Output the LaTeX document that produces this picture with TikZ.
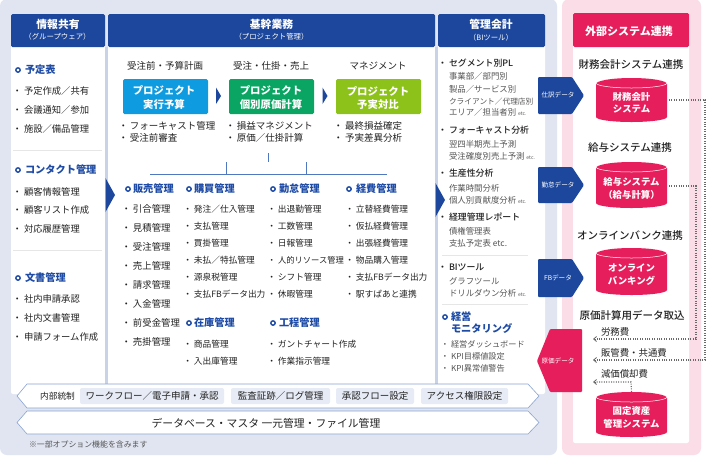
\documentclass[tikz,border=0pt]{standalone}
\usepackage{fontspec}
\setmainfont{Noto Sans CJK JP}
\newfontfamily\medf{Noto Sans CJK JP Medium}
\usetikzlibrary{arrows.meta}
\definecolor{panelblue}{HTML}{E0E5F1}
\definecolor{panelpink}{HTML}{FBDDE7}
\definecolor{navy}{HTML}{1C479C}
\definecolor{headblue}{HTML}{1E4BA5}
\definecolor{sepblue}{HTML}{C9D3E8}
\definecolor{linkblue}{HTML}{4F78C0}
\definecolor{rim}{HTML}{8AA4D2}
\definecolor{chip}{HTML}{E6EBF5}
\definecolor{crimson}{HTML}{E61E5C}
\definecolor{skyb}{HTML}{0F9BE0}
\definecolor{greenb}{HTML}{0AA562}
\definecolor{limeb}{HTML}{8CC21A}
\definecolor{ink}{HTML}{222222}
\definecolor{soft}{HTML}{555555}
\definecolor{rule}{HTML}{E6E6E6}
\definecolor{flowgray}{HTML}{6A6A6A}
\newcount\tcnt
\newcommand{\fsz}[1]{\fontsize{#1}{#1}\selectfont}
\newcommand{\lbl}[5][]{\global\advance\tcnt by 1 \node[txt,#1] (t\the\tcnt) at (#2,{#3}) {\fsz{#4}#5};}
% bullet item: x = left edge of the words
\newcommand{\itm}[5][ink]{\global\advance\tcnt by 1 \node[txt,anchor=west,text=#1] (t\the\tcnt) at (#2,#3) {\fsz{#4}\llap{・\kern2pt}#5};}
\newcommand{\hitm}[4]{\global\advance\tcnt by 1 \node[txt,anchor=west,font=\medf] (t\the\tcnt) at (#1,#2) {\fsz{#3}\llap{・\kern2pt}#4};}
% section heading with ring marker
\newcommand{\sect}[4]{\global\advance\tcnt by 1 \node[ringm] (m\the\tcnt) at (#1,#2) {};\node[txt,anchor=west,text=headblue,font=\bfseries] (t\the\tcnt) at (#3,#2) {\fsz{10.2}#4};}
\newcommand{\cyl}[5]{% name, top, bottom, line1, line2
  \path[fill=crimson] (596,#2+6) arc[start angle=180,end angle=360,x radius=35.5,y radius=6] -- (667,#3-5) arc[start angle=0,end angle=180,x radius=35.5,y radius=5] -- cycle;
  \draw[white,line width=.5] (596,#2+5) arc[start angle=180,end angle=0,x radius=35.5,y radius=5];
  \node[inner sep=0,minimum width=71,minimum height=#3-#2] (#1) at (631.5,{(#2+#3)/2}) {};
  \lbl[text=white,font=\bfseries]{631.5}{(#2+#3)/2-3.5}{9.4}{#4}
  \lbl[text=white,font=\bfseries]{631.5}{(#2+#3)/2+9.5}{9.4}{#5}
}
\tikzset{
  txt/.style={inner sep=0,outer sep=0,text=ink},
  ringm/.style={circle,draw=headblue,fill=white,line width=1.4,minimum size=4.4,inner sep=0},
  headbox/.style={fill=navy,rounded corners=1.5},
  colbox/.style={fill=white},
  prjbox/.style={rounded corners=1.5,inner sep=0,minimum width=85,minimum height=35},
  banner/.style={fill=white,draw=rim,line width=.6},
  chipbox/.style={fill=chip,rounded corners=2},
  dataflow/.style={line width=1.1,dash pattern=on 1pt off 1.4pt,draw=flowgray},
  linkline/.style={draw=linkblue,line width=1},
  hrule/.style={draw=rule,line width=.8},
  tri/.style={fill=navy},
}
\begin{document}
\begin{tikzpicture}[x=1pt,y=-1pt]
\useasboundingbox (0,0) rectangle (706,456);
\fill[white] (0,0) rectangle (706,456);
% panels
\fill[panelblue,rounded corners=7] (0,-1) rectangle (557,455);
\fill[panelpink,rounded corners=7] (562,-1) rectangle (701,455);
% columns
\fill[colbox,rounded corners=2] (11,40) rectangle (105,394);
\fill[colbox] (108,40) rectangle (435,384);
\fill[colbox,rounded corners=2] (438,40) rectangle (545,394);
\fill[sepblue] (105,47) rectangle (108,384);
\fill[sepblue] (435,47) rectangle (438,384);
\fill[white,rounded corners=2] (573,13) rectangle (689,443);
% headers
\fill[headbox] (11,14) rectangle (105,47);
\fill[headbox] (108,14) rectangle (435,47);
\fill[headbox] (438,14) rectangle (545,47);
\fill[crimson,rounded corners=1.5] (573,13) rectangle (689,47);
\lbl[text=white,font=\bfseries]{58}{24.5}{10.8}{情報共有}
\lbl[text=white]{57.5}{37}{7.4}{（グループウェア）}
\lbl[text=white,font=\bfseries]{271.5}{24.5}{10.8}{基幹業務}
\lbl[text=white]{271.5}{37}{7.4}{（プロジェクト管理）}
\lbl[text=white,font=\bfseries]{491}{24.5}{10.8}{管理会計}
\lbl[text=white]{491}{38}{7.4}{（BIツール）}
\lbl[text=white,font=\bfseries]{629}{31}{11}{外部システム連携}
% column 1
\sect{18}{70}{25}{予定表}
\itm{24}{90.5}{9.3}{予定作成／共有}
\itm{24}{109.5}{9.3}{会議通知／参加}
\itm{24}{128.5}{9.3}{施設／備品管理}
\coordinate (r1a) at (13,150); \coordinate (r1b) at (102,150);
\draw[hrule] (r1a) -- (r1b);
\sect{18}{170}{25}{コンタクト管理}
\itm{24}{191.5}{9.3}{顧客情報管理}
\itm{24}{210}{9.3}{顧客リスト作成}
\itm{24}{229}{9.3}{対応履歴管理}
\coordinate (r2a) at (13,250); \coordinate (r2b) at (102,250);
\draw[hrule] (r2a) -- (r2b);
\sect{18}{278}{25}{文書管理}
\itm{24}{299}{9.3}{社内申請承認}
\itm{24}{317.5}{9.3}{社内文書管理}
\itm{24}{337}{9.3}{申請フォーム作成}
% arrows between columns
\fill[tri] (105.5,178) -- (115,195) -- (105.5,212) -- cycle;
\fill[tri] (435.5,183) -- (445,200) -- (435.5,217) -- cycle;
% project phases
\lbl{165}{66}{9.5}{受注前・予算計画}
\lbl{271}{66}{9.5}{受注・仕掛・売上}
\lbl{378}{66}{9.5}{マネジメント}
\node[prjbox,fill=skyb] (pa) at (165.5,96.5) {};
\node[prjbox,fill=greenb] (pb) at (271.5,96.5) {};
\node[prjbox,fill=limeb] (pc) at (378.5,96.5) {};
\lbl[text=white,font=\bfseries]{164}{90.5}{10.4}{プロジェクト}
\lbl[text=white,font=\bfseries]{164}{104.5}{10.4}{実行予算}
\lbl[text=white,font=\bfseries]{271}{90.5}{10.4}{プロジェクト}
\lbl[text=white,font=\bfseries]{271}{104.5}{10.4}{個別原価計算}
\lbl[text=white,font=\bfseries]{378}{91}{10.4}{プロジェクト}
\lbl[text=white,font=\bfseries]{378}{105}{10.4}{予実対比}
\fill[tri] (216,87.5) -- (221,96) -- (216,104) -- cycle;
\fill[tri] (322.5,87.5) -- (327.5,96) -- (322.5,104) -- cycle;
\itm{130}{125.5}{9.5}{フォーキャスト管理}
\itm{130}{138}{9.5}{受注前審査}
\itm{237}{125.5}{9.5}{損益マネジメント}
\itm{237}{138}{9.5}{原価／仕掛計算}
\itm{345}{125.5}{9.5}{最終損益確定}
\itm{345}{138}{9.5}{予実差異分析}
% tree
\coordinate (tr0) at (268,153); \coordinate (trm) at (268,162);
\coordinate (tra) at (150,174); \coordinate (trb) at (226,174);
\coordinate (trc) at (306,174); \coordinate (trd) at (387,174);
\draw[linkline] (tr0) -- (trm);
\draw[linkline] (tra) |- (trd);
\draw[linkline] (trb) -- (226,162);
\draw[linkline] (trc) -- (306,162);
% 販売
\sect{128}{189}{133}{販売管理}
\itm{133}{209}{9.4}{引合管理}
\itm{133}{228}{9.4}{見積管理}
\itm{133}{247}{9.4}{受注管理}
\itm{133}{266}{9.4}{売上管理}
\itm{133}{285}{9.4}{請求管理}
\itm{133}{304}{9.4}{入金管理}
\itm{133}{323}{9.4}{前受金管理}
\itm{133}{342}{9.4}{売掛管理}
% 購買
\sect{189}{189}{194}{購買管理}
\itm{194}{209}{8.7}{発注／仕入管理}
\itm{194}{226}{8.7}{支払管理}
\itm{194}{243}{8.7}{買掛管理}
\itm{194}{260}{8.7}{未払／特払管理}
\itm{194}{277}{8.7}{源泉税管理}
\itm{194}{294}{8.7}{支払FBデータ出力}
\sect{189}{323}{194}{在庫管理}
\itm{194}{344}{8.7}{商品管理}
\itm{194}{361}{8.7}{入出庫管理}
% 勤怠
\sect{273}{189}{279}{勤怠管理}
\itm{278}{209}{8.7}{出退勤管理}
\itm{278}{226}{8.7}{工数管理}
\itm{278}{243}{8.7}{日報管理}
\itm{278}{260}{8.3}{人的リソース管理}
\itm{278}{277}{8.7}{シフト管理}
\itm{278}{294}{8.7}{休暇管理}
\sect{273}{323}{279}{工程管理}
\itm{278}{344}{8.7}{ガントチャート作成}
\itm{278}{361}{8.7}{作業指示管理}
% 経費
\sect{349}{189}{356}{経費管理}
\itm{356}{209}{8.7}{立替経費管理}
\itm{356}{226}{8.7}{仮払経費管理}
\itm{356}{243}{8.7}{出張経費管理}
\itm{356}{260}{8.7}{物品購入管理}
\itm{356}{277}{8.7}{支払FBデータ出力}
\itm{356}{294}{8.7}{駅すぱあと連携}
% column 3
\hitm{449}{63}{8.9}{セグメント別PL}
\lbl[anchor=west,text=soft]{449}{76}{8.4}{事業部／部門別}
\lbl[anchor=west,text=soft]{449}{89}{8.4}{製品／サービス別}
\lbl[anchor=west,text=soft]{449}{101.5}{7.7}{クライアント／代理店別}
\lbl[anchor=west,text=soft]{449}{112.5}{8.4}{エリア／担当者別 {\fsz{5}etc.}}
\hitm{449}{130}{8.9}{フォーキャスト分析}
\lbl[anchor=west,text=soft]{449}{144}{8.4}{翌四半期売上予測}
\lbl[anchor=west,text=soft]{449}{156}{8.4}{受注確度別売上予測 {\fsz{5}etc.}}
\hitm{449}{173}{8.9}{生産性分析}
\lbl[anchor=west,text=soft]{449}{188}{8.4}{作業時間分析}
\lbl[anchor=west,text=soft]{449}{200}{8.4}{個人別貢献度分析 {\fsz{5}etc.}}
\hitm{449}{217}{8.9}{経理管理レポート}
\lbl[anchor=west,text=soft]{449}{231}{8.4}{債権管理表}
\lbl[anchor=west,text=soft]{449}{243}{8.4}{支払予定表 etc.}
\coordinate (r3a) at (442,255); \coordinate (r3b) at (528,255);
\draw[hrule] (r3a) -- (r3b);
\hitm{449}{267}{8.9}{BIツール}
\lbl[anchor=west,text=soft]{449}{281}{8.4}{グラフツール}
\lbl[anchor=west,text=soft]{449}{293}{8.4}{ドリルダウン分析 {\fsz{5}etc.}}
\coordinate (r4a) at (442,304); \coordinate (r4b) at (528,304);
\draw[hrule] (r4a) -- (r4b);
\sect{445}{317}{451}{経営}
\lbl[anchor=west,text=headblue,font=\bfseries]{451}{328.5}{10.2}{モニタリング}
\itm[soft]{451}{344}{8.2}{経営ダッシュボード}
\itm[soft]{451}{356}{8.2}{KPI目標値設定}
\itm[soft]{451}{368}{8.2}{KPI異常値警告}
% banners
\draw[banner] (27,384) -- (528,384) -- (539,396) -- (528,408) -- (27,408) -- (17,396) -- cycle;
\draw[banner] (27,411) -- (528,411) -- (539,422.5) -- (528,434) -- (27,434) -- (17,422.5) -- cycle;
\lbl{57.5}{396}{8.7}{内部統制}
\fill[chipbox] (80,388) rectangle (224,404);
\fill[chipbox] (231,388) rectangle (330,404);
\fill[chipbox] (336,388) rectangle (414,404);
\fill[chipbox] (421,388) rectangle (508,404);
\lbl{152}{396}{9.5}{ワークフロー／電子申請・承認}
\lbl{280.5}{396}{9.5}{監査証跡／ログ管理}
\lbl{375}{396}{9.5}{承認フロー設定}
\lbl{464.5}{396}{9.5}{アクセス権限設定}
\lbl{266}{423}{10.8}{データベース・マスタ 一元管理・ファイル管理}
\lbl[anchor=west,text=soft]{29}{444}{7.9}{※一部オプション機能を含みます}
% pink column
\lbl[font=\medf]{631}{65}{10.5}{財務会計システム連携}
\lbl[font=\medf]{630}{148}{10.5}{給与システム連携}
\lbl[font=\medf]{630}{236}{10.5}{オンラインバンク連携}
\lbl[font=\medf]{632}{315}{10.5}{原価計算用データ取込}
\cyl{cya}{78}{122}{財務会計}{システム}
\cyl{cyb}{162}{208}{給与システム}{（給与計算）}
\cyl{cyc}{248}{295}{オンライン}{バンキング}
\cyl{cyd}{392}{437}{固定資産}{管理システム}
% data arrows
\fill[navy,rounded corners=1] (538,77) -- (572,77) -- (584,95.5) -- (572,114) -- (538,114) -- cycle;
\fill[navy,rounded corners=1] (538,167) -- (572,167) -- (584,185) -- (572,203) -- (538,203) -- cycle;
\fill[navy,rounded corners=1] (538,259) -- (572,259) -- (584,278) -- (572,297) -- (538,297) -- cycle;
\fill[crimson,rounded corners=1] (582,329) -- (550,329) -- (537,361) -- (550,392) -- (582,392) -- cycle;
\lbl[text=white]{558}{95}{6.6}{仕訳データ}
\lbl[text=white]{558}{185}{6.6}{勤怠データ}
\lbl[text=white]{558}{278}{6.6}{FBデータ}
\lbl[text=white]{558}{361}{6.6}{原価データ}
% dotted flows
\coordinate (fa1) at (705,100); \coordinate (fa2) at (705,360); \coordinate (faend) at (593,360);
\coordinate (fb1) at (696,186); \coordinate (fb2) at (696,339); \coordinate (fbend) at (593,339);
\coordinate (fc1) at (631,382); \coordinate (fcend) at (593,382);
\coordinate (ast) at (669,100); \coordinate (bst) at (669,186);
\draw[dataflow] (ast) -- (fa1) -- (fa2) -- (faend);
\draw[dataflow] (bst) -- (fb1) -- (fb2) -- (fbend);
\draw[dataflow] (cyd.north) -- (fc1) -- (fcend);
\draw[flowgray,line width=.8,{Straight Barb[length=3pt,width=5pt]}-] (faend) -- +(3,0);
\draw[flowgray,line width=.8,{Straight Barb[length=3pt,width=5pt]}-] (fbend) -- +(3,0);
\draw[flowgray,line width=.8,{Straight Barb[length=3pt,width=5pt]}-] (fcend) -- +(3,0);
\lbl[anchor=west]{601}{332}{9.4}{労務費}
\lbl[anchor=west]{601}{353}{9.4}{販管費・共通費}
\lbl[anchor=west]{601}{374}{9.4}{減価償却費}
\end{tikzpicture}
\end{document}
